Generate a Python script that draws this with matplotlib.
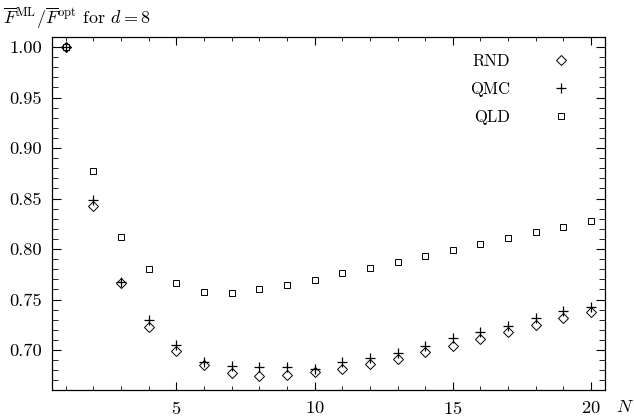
import numpy as np
import matplotlib
matplotlib.use("Agg")
import matplotlib.pyplot as plt
from matplotlib.ticker import MultipleLocator

plt.rcParams['font.family'] = 'cmr10'
plt.rcParams['mathtext.fontset'] = 'cm'
plt.rcParams['axes.formatter.use_mathtext'] = True

# === Data ===
N = list(range(1, 21))
rnd = [1.000, 0.843, 0.766, 0.723, 0.699, 0.685, 0.6775, 0.6746, 0.6752, 0.678,
       0.6812, 0.686, 0.691, 0.698, 0.704, 0.7106, 0.7175, 0.7248, 0.7313, 0.7376]
qmc = [1.000, 0.8485, 0.7677, 0.7297, 0.705, 0.6878, 0.6845, 0.6828, 0.6828, 0.6812,
       0.6878, 0.692, 0.6967, 0.7043, 0.712, 0.7175, 0.724, 0.7313, 0.7386, 0.7429]
qld = [1.000, 0.877, 0.812, 0.7805, 0.7667, 0.7578, 0.7568, 0.760, 0.7647, 0.7693,
       0.776, 0.7815, 0.7868, 0.793, 0.799, 0.805, 0.811, 0.8165, 0.822, 0.8274]
series = ["RND", "QMC", "QLD"]

fig = plt.figure(figsize=(6.34, 4.17), dpi=100)
ax = fig.add_axes([0.082, 0.0647, 0.872, 0.8463])

ax.plot(N, rnd, linestyle='none', marker='D', markersize=4.6, markerfacecolor='none',
        markeredgecolor='black', markeredgewidth=0.7, label=series[0])
ax.plot(N, qmc, linestyle='none', marker='+', markersize=6.8, color='black',
        markeredgewidth=0.9, label=series[1])
ax.plot(N, qld, linestyle='none', marker='s', markersize=4.8, markerfacecolor='none',
        markeredgecolor='black', markeredgewidth=0.7, label=series[2])

ax.set_xlim(0.5, 20.5)
ax.set_ylim(0.6604, 1.0099)
ax.xaxis.set_major_locator(MultipleLocator(5))
ax.xaxis.set_minor_locator(MultipleLocator(1))
ax.yaxis.set_major_locator(MultipleLocator(0.05))
ax.yaxis.set_minor_locator(MultipleLocator(0.01))
ax.yaxis.set_major_formatter(plt.FormatStrFormatter('%.2f'))

ax.tick_params(which='both', direction='in', top=True, right=True, labelsize=13.3)
ax.tick_params(axis='x', which='major', length=5.5, width=0.8, pad=7)
ax.tick_params(axis='x', which='minor', length=3, width=0.6)
ax.tick_params(axis='y', which='major', length=6.5, width=0.8, pad=7)
ax.tick_params(axis='y', which='minor', length=4, width=0.6)
for s in ax.spines.values():
    s.set_linewidth(0.9)

leg = ax.legend(loc='upper right', bbox_to_anchor=(0.973, 1.0), frameon=False,
                markerfirst=False, fontsize=12, handlelength=1.5, labelspacing=0.76,
                borderaxespad=0.6, handletextpad=2.3)

fig.text(0.005, 0.955, r'$\overline{F}^{\mathrm{ML}}/\overline{F}^{\mathrm{opt}}$ for $d=8$',
         fontsize=13, ha='left', va='center')
fig.text(0.986, 0.024, r'$N$', fontsize=13, ha='center', va='center')

fig.savefig("out.png", dpi=100)
